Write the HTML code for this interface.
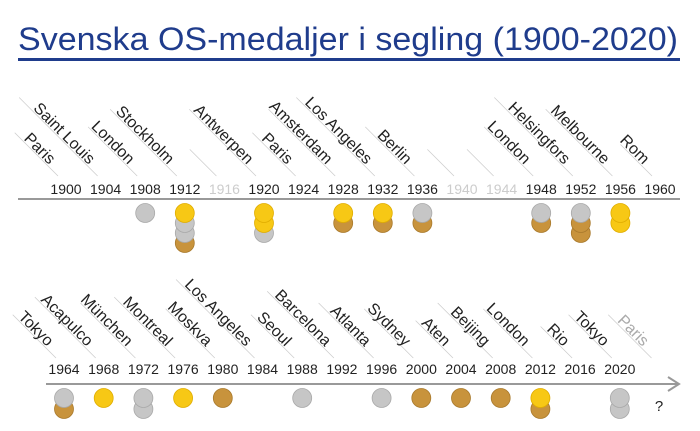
<!DOCTYPE html>
<html><head><meta charset="utf-8"><style>
html,body{margin:0;padding:0;background:#fff;}
svg{display:block;font-family:"Liberation Sans",sans-serif;}
</style></head><body>
<svg width="700" height="431" viewBox="0 0 700 431" xmlns="http://www.w3.org/2000/svg">
<text x="18" y="50" font-size="32" fill="#1f3c8c" textLength="660" lengthAdjust="spacingAndGlyphs">Svenska OS-medaljer i segling (1900-2020)</text>
<rect x="18" y="58" width="662" height="3" fill="#1f3c8c"/>
<line x1="18" y1="199" x2="680" y2="199" stroke="#999" stroke-width="2"/>
<line x1="46" y1="384" x2="678" y2="384" stroke="#999" stroke-width="2"/>
<polyline points="668,377 679,384 668,391" fill="none" stroke="#999" stroke-width="2"/>
<g id="c"></g>
<text x="659" y="411" font-size="15" fill="#222" text-anchor="middle">?</text>
<script>
var NS="http://www.w3.org/2000/svg",g=document.getElementById('c');
function el(t,a,txt){var e=document.createElementNS(NS,t);for(var k in a)e.setAttribute(k,a[k]);if(txt)e.textContent=txt;g.appendChild(e);return e;}
var col={G:'#f7c815',S:'#c6c6c6',B:'#c8933c'},edge={G:'#e0ad00',S:'#a9a9a9',B:'#a97a2c'};
function row(years,x0,dx,yl,yc,ye,step){
 years.forEach(function(d,i){
  var x=x0+i*dx;
  el('text',{x:x,y:yl,'font-size':14,'text-anchor':'middle',fill:d.grey?'#ccc':'#222'},d.y);
  var ex=x-16,ey=ye;
  var len=d.c?d.c.length*8.3:0;
  var L=len+(d.extra||14);
  el('line',{x1:ex+4-L*0.707,y1:ey+4-L*0.707,x2:ex+8,y2:ey+8,stroke:'#ccc','stroke-width':0.7});
  if(d.c){el('text',{x:0,y:0,'font-size':16,'text-anchor':'end',fill:d.pg?'#aaa':'#222',transform:'translate('+(ex-1)+','+(ey-3)+') rotate(45)'},d.c);}
  var m=d.m||'';
  for(var j=m.length-1;j>=0;j--){var cy=yc+j*step;
   el('circle',{cx:x,cy:cy,r:9.5,fill:col[m[j]],stroke:edge[m[j]],'stroke-width':0.8});}
 });
}
row([
{y:'1900',c:'Paris',m:''},{y:'1904',c:'Saint Louis',m:''},{y:'1908',c:'London',m:'S'},
{y:'1912',c:'Stockholm',m:'GSSB'},{y:'1916',grey:1,c:'',extra:32},{y:'1920',c:'Antwerpen',m:'GGS'},
{y:'1924',c:'Paris'},{y:'1928',c:'Amsterdam',m:'GB'},{y:'1932',c:'Los Angeles',m:'GB'},
{y:'1936',c:'Berlin',m:'SB'},{y:'1940',grey:1,c:'',extra:32},{y:'1944',grey:1,c:'',extra:32},
{y:'1948',c:'London',m:'SB'},{y:'1952',c:'Helsingfors',m:'SBB'},{y:'1956',c:'Melbourne',m:'GG'},{y:'1960',c:'Rom'}
],66,39.6,194,213,168,10);
row([
{y:'1964',c:'Tokyo',m:'SB'},{y:'1968',c:'Acapulco',m:'G'},{y:'1972',c:'München',m:'SS'},
{y:'1976',c:'Montreal',m:'G'},{y:'1980',c:'Moskva',m:'B'},{y:'1984',c:'Los Angeles'},
{y:'1988',c:'Seoul',m:'S'},{y:'1992',c:'Barcelona'},{y:'1996',c:'Atlanta',m:'S'},
{y:'2000',c:'Sydney',m:'B'},{y:'2004',c:'Aten',m:'B'},{y:'2008',c:'Beijing',m:'B'},
{y:'2012',c:'London',m:'GB'},{y:'2016',c:'Rio'},{y:'2020',c:'Tokyo',m:'SS'},{y:'',c:'Paris',pg:1}
],64,39.7,374,398,350,11);
</script>
</svg>
</body></html>
